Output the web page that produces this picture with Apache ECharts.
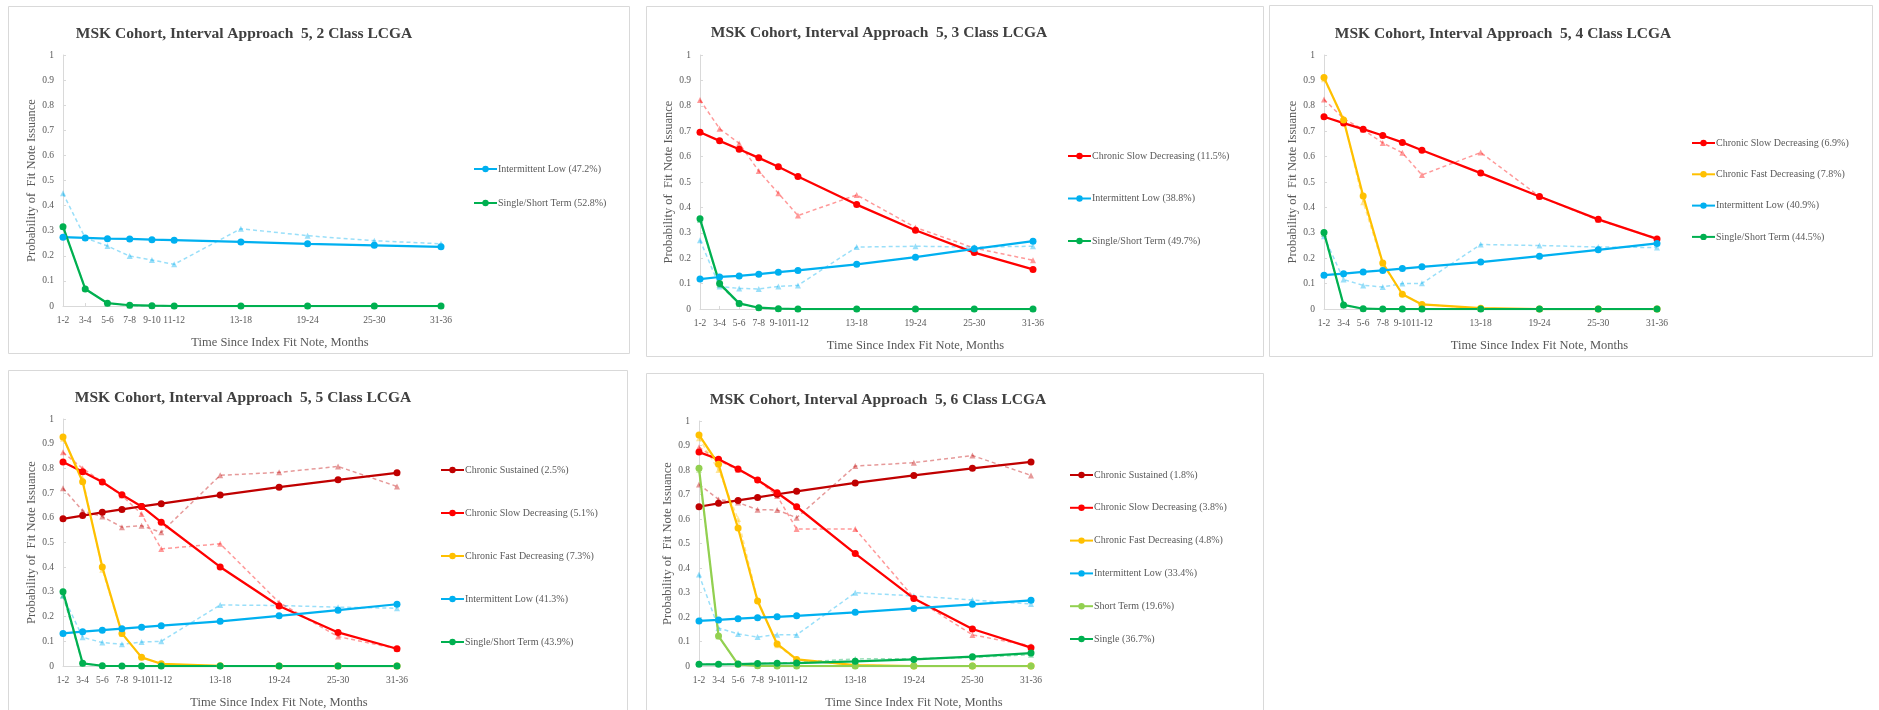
<!DOCTYPE html>
<html><head><meta charset="utf-8">
<script src="https://cdn.jsdelivr.net/npm/echarts@6/dist/echarts.min.js"></script>
<style>html,body{margin:0;padding:0;background:#fff}#c{width:1879px;height:710px}</style>
</head><body><div id="c"></div>
<script>
// ---------- DATA ----------
const periodLabels = ['1-2','3-4','5-6','7-8','9-10','11-12','13-18','19-24','25-30','31-36'];
const periodEndMonth = [2,4,6,8,10,12,18,24,30,36];

// 2 class
const c2_intermittentLow_fit = [0.274,0.271,0.268,0.267,0.264,0.262,0.255,0.248,0.242,0.236];
const c2_intermittentLow_obs = [0.449,0.271,0.239,0.199,0.183,0.166,0.308,0.280,0.260,0.248];
const c2_singleShort_fit = [0.316,0.068,0.011,0.003,0.001,0,0,0,0,0];
const c2_singleShort_obs = [0.316,0.070,0.010,0.002,0,0,0,0,0,0];

// 3 class
const c3_slowDec_fit = [0.696,0.662,0.629,0.595,0.560,0.522,0.411,0.310,0.222,0.156];
const c3_slowDec_obs = [0.823,0.710,0.652,0.543,0.456,0.368,0.449,0.321,0.240,0.192];
const c3_intermittentLow_fit = [0.118,0.126,0.130,0.137,0.145,0.152,0.176,0.204,0.237,0.267];
const c3_intermittentLow_obs = [0.271,0.089,0.081,0.079,0.089,0.093,0.244,0.247,0.244,0.247];
const c3_singleShort_fit = [0.355,0.100,0.022,0.005,0.001,0,0,0,0,0];
const c3_singleShort_obs = [0.350,0.095,0.020,0.004,0,0,0,0,0,0];

// 4 class
const c4_slowDec_fit = [0.757,0.732,0.708,0.683,0.656,0.625,0.535,0.443,0.353,0.276];
const c4_slowDec_obs = [0.825,0.750,0.706,0.654,0.615,0.528,0.616,0.443,0.350,0.279];
const c4_fastDec_fit = [0.911,0.744,0.445,0.181,0.058,0.018,0.003,0,0,0];
const c4_fastDec_obs = [0.905,0.750,0.420,0.175,0.060,0.018,0.002,0,0,0];
const c4_intermittentLow_fit = [0.133,0.139,0.146,0.152,0.159,0.166,0.185,0.208,0.233,0.258];
const c4_intermittentLow_obs = [0.286,0.116,0.093,0.087,0.100,0.101,0.254,0.250,0.244,0.242];
const c4_singleShort_fit = [0.301,0.016,0.001,0,0,0,0,0,0,0];
const c4_singleShort_obs = [0.295,0.015,0.001,0,0,0,0,0,0,0];

// 5 class
const c5_sustained_fit = [0.596,0.609,0.622,0.634,0.646,0.657,0.692,0.724,0.754,0.782];
const c5_sustained_obs = [0.720,0.628,0.605,0.562,0.568,0.541,0.772,0.784,0.808,0.727];
const c5_slowDec_fit = [0.826,0.786,0.745,0.693,0.646,0.582,0.401,0.243,0.136,0.070];
const c5_slowDec_obs = [0.865,0.800,0.745,0.690,0.615,0.474,0.495,0.257,0.119,0.070];
const c5_fastDec_fit = [0.927,0.746,0.401,0.132,0.035,0.009,0.001,0,0,0];
const c5_fastDec_obs = [0.920,0.760,0.390,0.130,0.035,0.008,0,0,0,0];
const c5_intermittentLow_fit = [0.132,0.139,0.145,0.151,0.157,0.163,0.181,0.203,0.226,0.250];
const c5_intermittentLow_obs = [0.285,0.116,0.095,0.088,0.097,0.100,0.247,0.245,0.238,0.234];
const c5_singleShort_fit = [0.301,0.011,0.001,0,0,0,0,0,0,0];
const c5_singleShort_obs = [0.285,0.010,0.001,0,0,0,0,0,0,0];

// 6 class
const c6_sustained_fit = [0.650,0.664,0.676,0.688,0.701,0.713,0.747,0.778,0.807,0.833];
const c6_sustained_obs = [0.741,0.680,0.667,0.638,0.637,0.605,0.816,0.830,0.859,0.778];
const c6_slowDec_fit = [0.873,0.844,0.804,0.759,0.707,0.650,0.459,0.276,0.151,0.075];
const c6_slowDec_obs = [0.893,0.840,0.800,0.760,0.694,0.559,0.559,0.279,0.127,0.082];
const c6_fastDec_fit = [0.943,0.823,0.563,0.265,0.090,0.027,0.004,0,0,0];
const c6_fastDec_obs = [0.930,0.800,0.600,0.270,0.085,0.025,0.003,0,0,0];
const c6_intermittentLow_fit = [0.184,0.188,0.193,0.197,0.201,0.205,0.219,0.235,0.252,0.268];
const c6_intermittentLow_obs = [0.373,0.155,0.131,0.118,0.128,0.127,0.299,0.286,0.269,0.253];
const c6_shortTerm_fit = [0.807,0.122,0.007,0.001,0,0,0,0,0,0];
const c6_shortTerm_obs = [0.800,0.120,0.006,0,0,0,0,0,0,0];
const c6_single_fit = [0.007,0.007,0.008,0.010,0.011,0.012,0.019,0.027,0.038,0.053];
const c6_single_obs = [0.008,0.008,0.009,0.010,0.012,0.015,0.029,0.030,0.035,0.046];

const titles = [
  'MSK Cohort, Interval Approach  5, 2 Class LCGA',
  'MSK Cohort, Interval Approach  5, 3 Class LCGA',
  'MSK Cohort, Interval Approach  5, 4 Class LCGA',
  'MSK Cohort, Interval Approach  5, 5 Class LCGA',
  'MSK Cohort, Interval Approach  5, 6 Class LCGA'
];
const xAxisTitle = 'Time Since Index Fit Note, Months';
const yAxisTitle = 'Probability of  Fit Note Issuance';

// ---------- STYLE ----------
const COL = {
  sustained: [192,0,0], slow: [255,0,0], fast: [255,192,0],
  inter: [0,176,240], singleShort: [0,176,80], shortTerm: [146,208,80], single: [0,176,80]
};
const panels = [
  { grid:{left:63,top:55,width:378,height:251}, title:[244,26], legend:[473,163,22],
    classes:[
      ['Intermittent Low (47.2%)','inter',c2_intermittentLow_fit,c2_intermittentLow_obs],
      ['Single/Short Term (52.8%)','singleShort',c2_singleShort_fit,c2_singleShort_obs]] },
  { grid:{left:700,top:55,width:333,height:254}, title:[879,25], legend:[1067,150,30.5],
    classes:[
      ['Chronic Slow Decreasing (11.5%)','slow',c3_slowDec_fit,c3_slowDec_obs],
      ['Intermittent Low (38.8%)','inter',c3_intermittentLow_fit,c3_intermittentLow_obs],
      ['Single/Short Term (49.7%)','singleShort',c3_singleShort_fit,c3_singleShort_obs]] },
  { grid:{left:1324,top:55,width:333,height:254}, title:[1503,26], legend:[1691,137,19.3],
    classes:[
      ['Chronic Slow Decreasing (6.9%)','slow',c4_slowDec_fit,c4_slowDec_obs],
      ['Chronic Fast Decreasing (7.8%)','fast',c4_fastDec_fit,c4_fastDec_obs],
      ['Intermittent Low (40.9%)','inter',c4_intermittentLow_fit,c4_intermittentLow_obs],
      ['Single/Short Term (44.5%)','singleShort',c4_singleShort_fit,c4_singleShort_obs]] },
  { grid:{left:63,top:419,width:334,height:247}, title:[243,390], legend:[440,464,31],
    classes:[
      ['Chronic Sustained (2.5%)','sustained',c5_sustained_fit,c5_sustained_obs],
      ['Chronic Slow Decreasing (5.1%)','slow',c5_slowDec_fit,c5_slowDec_obs],
      ['Chronic Fast Decreasing (7.3%)','fast',c5_fastDec_fit,c5_fastDec_obs],
      ['Intermittent Low (41.3%)','inter',c5_intermittentLow_fit,c5_intermittentLow_obs],
      ['Single/Short Term (43.9%)','singleShort',c5_singleShort_fit,c5_singleShort_obs]] },
  { grid:{left:699,top:421,width:332,height:245}, title:[878,392], legend:[1069,469,20.8],
    classes:[
      ['Chronic Sustained (1.8%)','sustained',c6_sustained_fit,c6_sustained_obs],
      ['Chronic Slow Decreasing (3.8%)','slow',c6_slowDec_fit,c6_slowDec_obs],
      ['Chronic Fast Decreasing (4.8%)','fast',c6_fastDec_fit,c6_fastDec_obs],
      ['Intermittent Low (33.4%)','inter',c6_intermittentLow_fit,c6_intermittentLow_obs],
      ['Short Term (19.6%)','shortTerm',c6_shortTerm_fit,c6_shortTerm_obs],
      ['Single (36.7%)','single',c6_single_fit,c6_single_obs]] }
];
const borders = [[8,6,621,347],[646,6,617,350],[1269,5,603,351],[8,370,619,400],[646,373,617,400]];

const FONT = 'Liberation Serif, Times New Roman, serif';
const GRAY = '#595959', LINE = '#d9d9d9';
const rgb = (c,a) => `rgba(${c[0]},${c[1]},${c[2]},${a})`;
const labelOf = {};
periodEndMonth.forEach((m,i) => labelOf[m] = periodLabels[i]);
const pairs = vals => periodEndMonth.map((m,i) => [m, vals[i]]);

const option = {
  animation:false, backgroundColor:'#fff',
  title:[], grid:[], xAxis:[], yAxis:[], legend:[], series:[],
  graphic: borders.map(b => ({type:'rect', shape:{x:b[0]+0.5,y:b[1]+0.5,width:b[2],height:b[3]},
    style:{fill:null, stroke:LINE, lineWidth:1}, silent:true, z:-1}))
};

panels.forEach((p, i) => {
  option.title.push({ text:titles[i], left:p.title[0], top:p.title[1], textAlign:'center', padding:0,
    textStyle:{fontFamily:FONT, fontWeight:'bold', fontSize:15.5, color:'#404040'} });
  option.grid.push(Object.assign({containLabel:false}, p.grid));
  option.xAxis.push({ type:'value', gridIndex:i, min:2, max:36,
    axisLine:{lineStyle:{color:LINE, width:1}},
    axisTick:{show:true, inside:true, length:3, customValues:periodEndMonth, lineStyle:{color:LINE}},
    axisLabel:{customValues:periodEndMonth, formatter:v => labelOf[v] || '', color:GRAY, fontSize:9.5, fontFamily:FONT, margin:9},
    splitLine:{show:false},
    name:xAxisTitle, nameLocation:'middle', nameGap:30,
    nameTextStyle:{fontFamily:FONT, fontSize:12.5, color:GRAY, padding:[0,0,0, i===0?56:98]} });
  option.yAxis.push({ type:'value', gridIndex:i, min:0, max:1, interval:0.1,
    axisLine:{show:true, lineStyle:{color:LINE, width:1}},
    axisTick:{show:true, inside:true, length:3, lineStyle:{color:LINE}},
    axisLabel:{formatter:v => String(Math.round(v*10)/10), color:GRAY, fontSize:9.5, fontFamily:FONT, margin:9},
    splitLine:{show:false},
    name:yAxisTitle, nameLocation:'middle', nameGap:24,
    nameTextStyle:{fontFamily:FONT, fontSize:12.5, color:GRAY} });
  option.legend.push({ orient:'vertical', left:p.legend[0], top:p.legend[1], itemGap:p.legend[2],
    itemWidth:23, itemHeight:8, padding:0, selectedMode:false,
    data:p.classes.map(c => c[0]),
    textStyle:{fontFamily:FONT, fontSize:10, color:GRAY, lineHeight:12, padding:[0,0,0,-4]} });
  p.classes.forEach(c => {
    const col = COL[c[1]];
    option.series.push({ type:'line', name:'Observed ' + c[0], xAxisIndex:i, yAxisIndex:i,
      data:pairs(c[3]), symbol:'triangle', symbolSize:6, z:2,
      lineStyle:{type:[4,3], width:1.5, color:rgb(col,0.4)},
      itemStyle:{color:rgb(col,0.4)} });
  });
  p.classes.forEach(c => {
    const col = COL[c[1]];
    option.series.push({ type:'line', name:c[0], xAxisIndex:i, yAxisIndex:i,
      data:pairs(c[2]), symbol:'circle', symbolSize:7, z:3,
      lineStyle:{width:2.25, color:rgb(col,1)},
      itemStyle:{color:rgb(col,1)} });
  });
});

const chart = echarts.init(document.getElementById('c'), null, {renderer:'canvas'});
chart.setOption(option);
</script>
</body></html>
